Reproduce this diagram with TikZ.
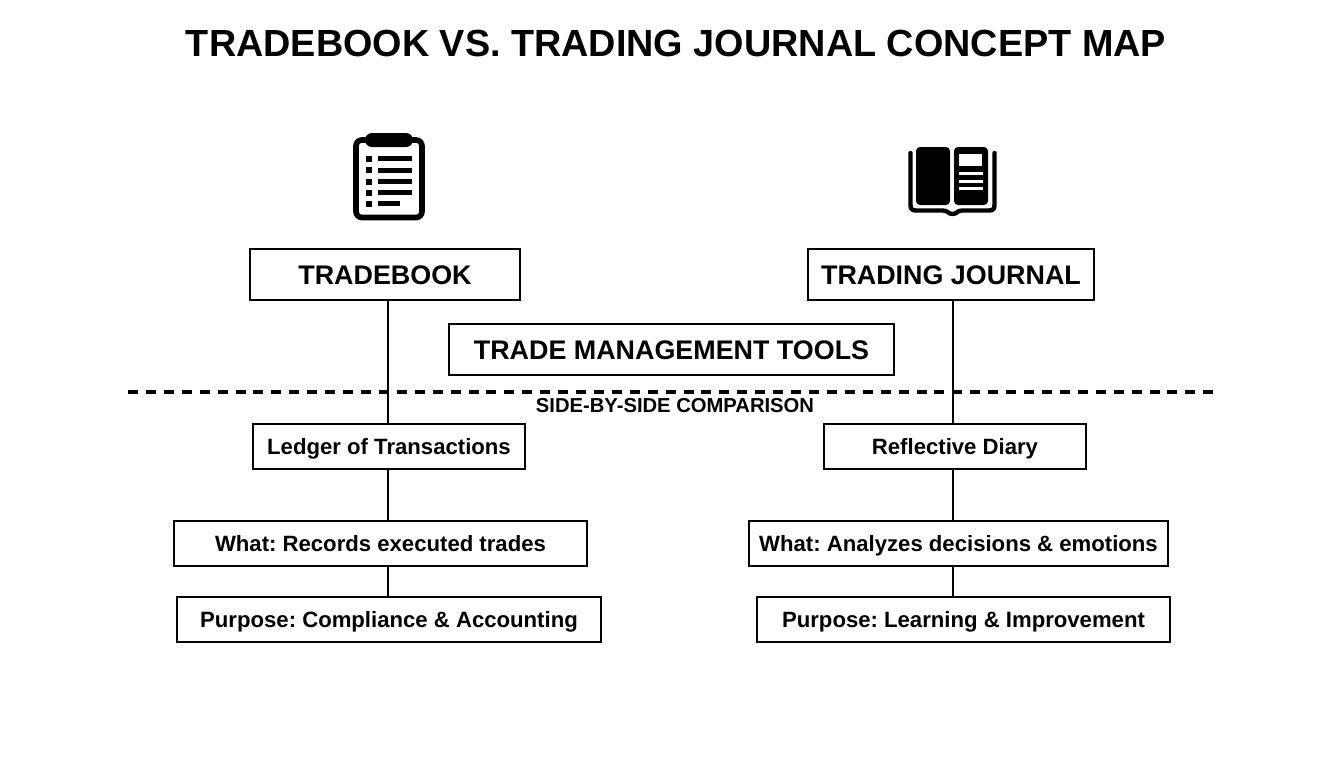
\documentclass[tikz,border=0pt]{standalone}
\usepackage{fontspec}
\setmainfont{Liberation Sans}
\frenchspacing
\usetikzlibrary{shapes.geometric, arrows}

\tikzset{
	bigbox/.style = {draw, rectangle, line width = 1.6pt, inner sep = 0pt, minimum height = 1.02 cm, text height = 11 pt, text depth = 0 pt, font = \bfseries\fontsize{15.3}{18}\selectfont},
	smallbox/.style = {draw, rectangle, line width = 1.6pt, inner sep = 0pt, minimum height = 0.9 cm, text height = 9 pt, text depth = 0 pt, font = \bfseries\fontsize{12.6}{16}\selectfont},
	link/.style = {line width = 1.6pt},
	ink/.style = {fill = black, draw = none}
}

\begin{document}
\begin{tikzpicture}[x = 0.02cm, y = -0.02cm]
		\useasboundingbox (0,0) rectangle (1344,768);
		
		\node[font = \bfseries\fontsize{21.5}{26}\selectfont] (title) at (676,43) {TRADEBOOK VS. TRADING JOURNAL CONCEPT MAP};
		
		% osie kolumn
		\coordinate (axisl) at (388,0);
		\coordinate (axisr) at (953,0);
		\coordinate (dashl) at (128,392);
		\coordinate (dashr) at (1216,392);
		
		\node[bigbox, minimum width = 5.4 cm] (tradebook) at (385,274.5) {TRADEBOOK};
		\node[bigbox, minimum width = 5.72 cm] (journal) at (951,274.5) {TRADING JOURNAL};
		\node[bigbox, minimum width = 8.9 cm] (tools) at (671.5,349.5) {TRADE MANAGEMENT TOOLS};
		
		\node[smallbox, minimum width = 5.44 cm] (ledger) at (389,446.5) {Ledger of Transactions};
		\node[smallbox, minimum width = 5.24 cm] (diary) at (955,446.5) {Reflective Diary};
		\node[smallbox, minimum width = 8.26 cm] (whatl) at (380.5,543.5) {What: Records executed trades};
		\node[smallbox, minimum width = 8.38 cm] (whatr) at (958.5,543.5) {What: Analyzes decisions \& emotions};
		\node[smallbox, minimum width = 8.48 cm] (purposel) at (389,619.5) {Purpose: Compliance \& Accounting};
		\node[smallbox, minimum width = 8.26 cm] (purposer) at (963.5,619.5) {Purpose: Learning \& Improvement};
		
		\node[font = \bfseries\fontsize{11.5}{14}\selectfont] (compare) at (675,406) {SIDE-BY-SIDE COMPARISON};
		
		\draw[line width = 1.9pt, dash pattern = on 5.7 pt off 4.5 pt] (dashl) -- (dashr);
		
		\draw[link] (tradebook.south -| axisl) -- (ledger.north -| axisl);
		\draw[link] (ledger.south -| axisl) -- (whatl.north -| axisl);
		\draw[link] (whatl.south -| axisl) -- (purposel.north -| axisl);
		\draw[link] (journal.south -| axisr) -- (diary.north -| axisr);
		\draw[link] (diary.south -| axisr) -- (whatr.north -| axisr);
		\draw[link] (whatr.south -| axisr) -- (purposer.north -| axisr);
		
		% notatnik
		\draw[line width = 3.2pt, rounded corners = 0.12 cm] (356,140) rectangle (422,217.5);
		\fill[ink, rounded corners = 0.14 cm] (365,133) rectangle (413,147);
		\foreach \y in {158.7,170,181.7,192.7,203.7} {
			\fill[ink] (366,\y-3) rectangle (372,\y+3);
		}
		\foreach \y in {158.7,170,181.7,192.7} {
			\fill[ink] (378,\y-2.5) rectangle (412,\y+2.5);
		}
		\fill[ink] (378,201.2) rectangle (400,206.2);
		
		% ksiazka
		\fill[ink, rounded corners = 0.08 cm] (916,147) rectangle (950,205);
		\fill[ink, rounded corners = 0.08 cm] (954,147) rectangle (988,205);
		\fill[white] (959,154) rectangle (982,166);
		\foreach \y in {173.5,181,188} {
			\fill[white] (959,\y-1.5) rectangle (983,\y+1.5);
		}
		\draw[line width = 2.5pt, line cap = round] (910.5,153) -- (910.5,205) .. controls (910.5,209) and (912,210.5) .. (916,210.5) -- (943,210.5) .. controls (948,210.5) and (948,214) .. (952.5,214) .. controls (957,214) and (957,210.5) .. (962,210.5) -- (989,210.5) .. controls (993,210.5) and (994.5,209) .. (994.5,205) -- (994.5,153);
	\end{tikzpicture}
\end{document}
